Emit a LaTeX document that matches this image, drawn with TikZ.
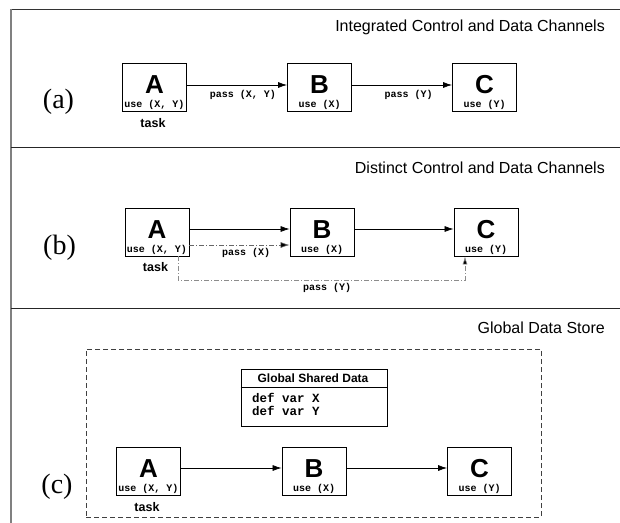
\documentclass[tikz,border=0pt]{standalone}
\usepackage{fontspec}
\setmainfont{Liberation Sans}
\setmonofont{Liberation Mono}
\newfontfamily\labserif{Liberation Serif}
\usetikzlibrary{arrows.meta}
\tikzset{
  taskbox/.style={draw=black, line width=0.8pt, minimum width=64pt, minimum height=48pt, inner sep=0pt},
  letter/.style={font=\fontsize{26}{26}\selectfont\bfseries, inner sep=0pt},
  usetxt/.style={font=\fontsize{10}{10}\selectfont\ttfamily\bfseries, inner sep=0pt},
  deftxt/.style={font=\fontsize{12.5}{12.5}\selectfont\ttfamily\bfseries, inner sep=0pt, anchor=west},
  tasktxt/.style={font=\fontsize{12.5}{12.5}\selectfont\bfseries, inner sep=0pt},
  titletxt/.style={font=\fontsize{16}{16}\selectfont, inner sep=0pt, anchor=base east},
  panellab/.style={font=\labserif\fontsize{28}{28}\selectfont, inner sep=0pt},
  flow/.style={-{Latex[length=9pt,width=6pt]}, line width=0.7pt},
  dd/.style={dash pattern=on 5pt off 2pt on 1pt off 2pt, line width=0.6pt},
  frameline/.style={line width=1pt, black!85},
}
\newcommand\tbox[5]{%
  \node[taskbox] (#1) at (#2,#3) {};
  \node[letter] (#1-l) at ([yshift=2pt]#1.center) {#4};
  \node[usetxt] (#1-u) at ([yshift=-18pt]#1.center) {#5};}
\begin{document}
\begin{tikzpicture}[x=1pt,y=-1pt]
\path[use as bounding box] (0,0) rectangle (620,522);
\clip (0,0) rectangle (620,522);
% frame
\draw[line width=1.5pt, black!80] (11,9.5) -- (630,9.5);
\draw[line width=2pt, gray] (11,8.75) -- (11,530);
\draw[frameline] (11,147) -- (630,147);
\draw[frameline] (11,308.5) -- (630,308.5);
% ---------- panel (a)
\node[titletxt] (ta) at (605,31) {Integrated Control and Data Channels};
\node[panellab] (la) at (58.5,102) {(a)};
\tbox{aA}{154.5}{87}{A}{use (X, Y)}
\tbox{aB}{319.5}{87}{B}{use (X)}
\tbox{aC}{484.5}{87}{C}{use (Y)}
\draw[flow] ([yshift=2pt]aA.east) -- ([yshift=2pt]aB.west);
\draw[flow] ([yshift=2pt]aB.east) -- ([yshift=2pt]aC.west);
\node[usetxt] (aP1) at (243,95) {pass (X, Y)};
\node[usetxt] (aP2) at (408.5,95) {pass (Y)};
\node[tasktxt] (aT) at (153,123) {task};
% ---------- panel (b)
\node[titletxt] (tb) at (605,173) {Distinct Control and Data Channels};
\node[panellab] (lb) at (59.5,248) {(b)};
\tbox{bA}{157}{232}{A}{use (X, Y)}
\tbox{bB}{322}{232}{B}{use (X)}
\tbox{bC}{486}{232}{C}{use (Y)}
\draw[flow] ([yshift=3pt]bA.east) -- ([yshift=3pt]bB.west);
\draw[flow] ([yshift=3pt]bB.east) -- ([yshift=3pt]bC.west);
\draw[dd, draw=black!60, -{Latex[length=9pt,width=6pt,fill=black]}] ([yshift=-13pt]bA.east) -- ([yshift=-13pt]bB.west);
\node[usetxt] (bP1) at (246,253) {pass (X)};
\node[tasktxt] (bT) at (155.5,267) {task};
\coordinate (bY1) at (178,280);
\coordinate (bY2) at (465,280);
\draw[dd, draw=black!45, -{Latex[length=8pt,width=5pt,fill=black]}] (bA.south -| bY1) -- (bY1) -- (bY2) -- (bY2 |- bC.south);
\node[usetxt] (bP2) at (327,288) {pass (Y)};
% ---------- panel (c)
\node[titletxt] (tc) at (605,333) {Global Data Store};
\node[panellab] (lc) at (57,487) {(c)};
\node[draw=black!75, dashed, dash pattern=on 5pt off 3pt, line width=0.8pt, minimum width=455pt, minimum height=168pt, inner sep=0pt] (store) at (313.5,433) {};
\node[draw=black, line width=0.8pt, minimum width=146pt, minimum height=57pt, inner sep=0pt] (gsd) at (314,398) {};
\coordinate (gsep) at (314,387);
\draw[line width=0.8pt] (gsd.west |- gsep) -- (gsd.east |- gsep);
\node[font=\fontsize{12}{12}\selectfont\bfseries, inner sep=0pt] (gsdt) at (313,378) {Global Shared Data};
\node[deftxt] (gx) at (252,398) {def var X};
\node[deftxt] (gy) at (252,411) {def var Y};
\tbox{cA}{148.5}{471}{A}{use (X, Y)}
\tbox{cB}{314}{471}{B}{use (X)}
\tbox{cC}{479.5}{471}{C}{use (Y)}
\draw[flow] ([yshift=3pt]cA.east) -- ([yshift=3pt]cB.west);
\draw[flow] ([yshift=3pt]cB.east) -- ([yshift=3pt]cC.west);
\node[tasktxt] (cT) at (147,507) {task};
\end{tikzpicture}
\end{document}
